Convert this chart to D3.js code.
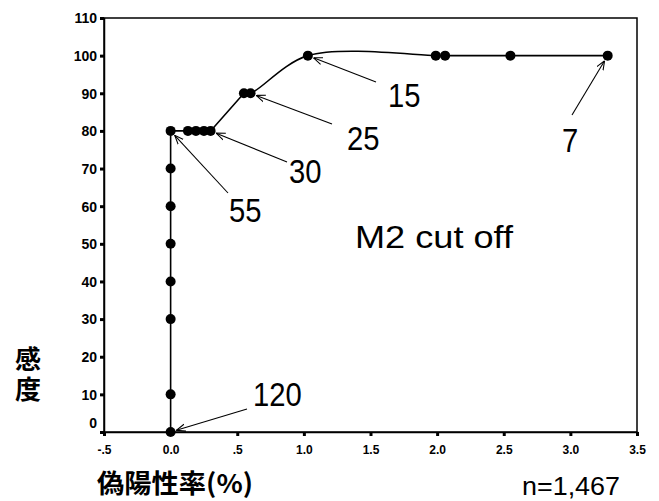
<!DOCTYPE html>
<html><head><meta charset="utf-8">
<script src="https://cdn.jsdelivr.net/npm/d3@7"></script>
<style>
html,body{margin:0;padding:0;background:#fff;}
svg{display:block;}
</style></head>
<body>
<svg id="c" width="659" height="501"></svg>
<script>
// ---- data ----
const fpRate = [0, 0, 0, 0, 0, 0, 0, 0, 0.13, 0.19, 0.25, 0.30, 0.55, 0.60, 1.03, 1.99, 2.06, 2.55, 3.28];
const sensitivity = [0, 10, 30, 40, 50, 60, 70, 80, 80, 80, 80, 80, 90, 90, 100, 100, 100, 100, 100];
const xTicks = [-0.5, 0, 0.5, 1.0, 1.5, 2.0, 2.5, 3.0, 3.5];
const xTickLabels = ["-.5", "0.0", ".5", "1.0", "1.5", "2.0", "2.5", "3.0", "3.5"];
const yTicks = [0, 10, 20, 30, 40, 50, 60, 70, 80, 90, 100, 110];
const cutLabels = ["120", "55", "30", "25", "15", "7"];
const cutX = [0, 0, 0.30, 0.60, 1.03, 3.28];
const cutY = [0, 80, 80, 90, 100, 100];
const xTitle = "偽陽性率(%)";
const yTitle = "感度";
const noteText = "M2 cut off";
const nText = "n=1,467";

// ---- layout (pixels) ----
const labelPos = [[253,406],[229,222],[289,183],[347,150],[388,107],[562,152]];
const arrowStart = [[247,409],[228,193],[287,162],[332,124],[376,82],[572,115]];

const svg = d3.select("#c");
const x = d3.scaleLinear().domain([-0.5, 3.5]).range([104, 637]);
const y = d3.scaleLinear().domain([0, 110]).range([432, 18]);

// frame
svg.append("rect").attr("x", 104).attr("y", 18).attr("width", 533).attr("height", 414)
  .attr("fill", "none").attr("stroke", "#000").attr("stroke-width", 1.5);

// y axis
const yAxis = svg.append("g").attr("transform", "translate(104,0)")
  .call(d3.axisLeft(y).tickValues(yTicks).tickSize(4).tickPadding(3));
yAxis.select(".domain").attr("stroke-width", 1.5);
yAxis.selectAll(".tick line").attr("stroke-width", 3);
yAxis.selectAll(".tick text").attr("font-family", "Liberation Sans, Arial, sans-serif")
  .attr("font-weight", "bold").attr("font-size", 14).attr("fill", "#000")
  .attr("dy", d => d === 0 ? "-0.3em" : "0.35em");

// x axis
const xAxis = svg.append("g").attr("transform", "translate(0,432)")
  .call(d3.axisBottom(x).tickValues(xTicks).tickFormat((d, i) => xTickLabels[i]).tickSize(4).tickPadding(9));
xAxis.select(".domain").attr("stroke-width", 1.5);
xAxis.selectAll(".tick line").attr("stroke-width", 3);
xAxis.selectAll(".tick text").attr("font-family", "Liberation Sans, Arial, sans-serif")
  .attr("font-weight", "bold").attr("font-size", 12).attr("fill", "#000");

// data line
const pts = fpRate.map((d, i) => [d, sensitivity[i]]);
const straight = pts.slice(0, 14);
const curved = pts.slice(12);
svg.append("path").datum(straight)
  .attr("d", d3.line().x(d => x(d[0])).y(d => y(d[1])))
  .attr("fill", "none").attr("stroke", "#000").attr("stroke-width", 1.6);
svg.append("path").datum(curved)
  .attr("d", d3.line().x(d => x(d[0])).y(d => y(d[1])).curve(d3.curveCatmullRom.alpha(0.5)))
  .attr("fill", "none").attr("stroke", "#000").attr("stroke-width", 1.6);

// points
svg.append("g").selectAll("circle").data(pts).join("circle")
  .attr("cx", d => x(d[0])).attr("cy", d => y(d[1])).attr("r", 5).attr("fill", "#000");

// arrow marker
svg.append("defs").append("marker").attr("id", "arr")
  .attr("viewBox", "0 0 10 10").attr("refX", 10).attr("refY", 5)
  .attr("markerWidth", 9).attr("markerHeight", 9).attr("markerUnits", "userSpaceOnUse")
  .attr("orient", "auto")
  .append("path").attr("d", "M0,1 L10,5 L0,9").attr("fill", "none").attr("stroke", "#000").attr("stroke-width", 1.2);

// annotations
cutLabels.forEach((lab, i) => {
  const px = x(cutX[i]), py = y(cutY[i]);
  const [sx, sy] = arrowStart[i];
  const dx = sx - px, dy = sy - py, len = Math.hypot(dx, dy);
  const ex = px + dx / len * 6, ey = py + dy / len * 6;
  svg.append("line").attr("x1", sx).attr("y1", sy).attr("x2", ex).attr("y2", ey)
    .attr("stroke", "#000").attr("stroke-width", 1.1).attr("marker-end", "url(#arr)");
  svg.append("text")
    .attr("transform", `translate(${labelPos[i][0]},${labelPos[i][1]}) scale(0.86,1)`)
    .attr("font-family", "Liberation Sans, Arial, sans-serif")
    .attr("font-size", 34).attr("fill", "#000").text(lab);
});

// note text
svg.append("text").attr("x", 355).attr("y", 248)
  .attr("font-family", "Liberation Sans, Arial, sans-serif").attr("font-size", 32)
  .attr("textLength", 158).attr("lengthAdjust", "spacingAndGlyphs")
  .attr("fill", "#000").text(noteText);

// axis titles
svg.append("text").attr("x", 97).attr("y", 493)
  .attr("font-family", "Noto Sans CJK JP, sans-serif").attr("font-weight", "bold").attr("font-size", 26)
  .attr("textLength", 156).attr("lengthAdjust", "spacingAndGlyphs")
  .attr("fill", "#000").text(xTitle);
svg.append("text").attr("x", 28).attr("y", 346)
  .style("writing-mode", "vertical-rl").style("letter-spacing", "4px")
  .attr("font-family", "Noto Sans CJK JP, sans-serif").attr("font-weight", "bold").attr("font-size", 26)
  .attr("fill", "#000").text(yTitle);

// n text
svg.append("text").attr("x", 522).attr("y", 495)
  .attr("font-family", "Liberation Sans, Arial, sans-serif").attr("font-size", 25)
  .attr("textLength", 98).attr("lengthAdjust", "spacingAndGlyphs")
  .attr("fill", "#000").text(nText);
</script>
</body></html>
